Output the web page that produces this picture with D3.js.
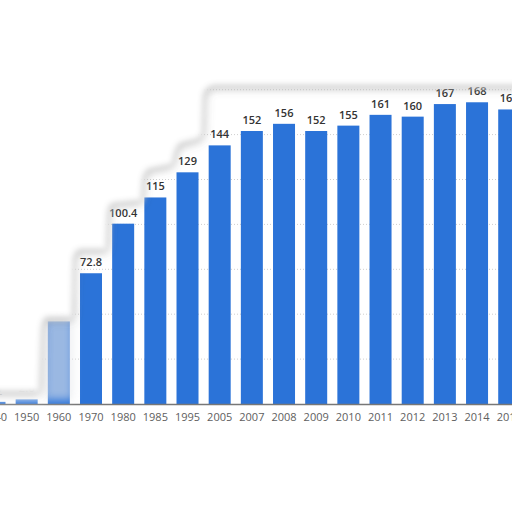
<!DOCTYPE html>
<html lang="en">
<head>
  <meta charset="UTF-8">
  <title>Bar chart</title>
  <script src="https://d3js.org/d3.v7.min.js"></script>
  <style>
    body { margin: 0; background: #fff; }
    .bar { fill: #2b73d8; }
    .val { font-family: "Open Sans", sans-serif; font-size: 11px; font-weight: 600; fill: #333; }
    .tick-lbl { font-family: "Open Sans", sans-serif; font-size: 11px; fill: #606060; }
  </style>
</head>
<body>
  <svg width="512" height="512"></svg>

  <script>
    // data
    const years  = ["1940", "1950", "1960", "1970", "1980", "1985", "1995", "2005", "2007",
                    "2008", "2009", "2010", "2011", "2012", "2013", "2014", "2015"];
    const values = [1.2, 2.6, 46, 72.8, 100.4, 115, 129, 144, 152,
                    156, 152, 155, 161, 160, 167, 168, 164];
    const gridTicks = [25, 50, 75, 100, 125, 150, 175];

    const svg = d3.select("svg");
    const baseY = 404;

    // the chart is cropped: bands run past both edges of the picture
    const x = d3.scaleBand()
      .domain(years)
      .range([-21.6, 525.3])
      .paddingInner(0.316)
      .paddingOuter(0.158);

    const y = d3.scaleLinear()
      .domain([0, 175])
      .range([baseY, baseY - 175 * 1.796]);

    // dotted grid
    svg.append("g")
      .selectAll("line")
      .data(gridTicks)
      .join("line")
        .attr("x1", 0).attr("x2", 512)
        .attr("y1", d => y(d)).attr("y2", d => y(d))
        .attr("stroke", "#cfcfcf")
        .attr("stroke-dasharray", "1,2");

    // bars
    svg.selectAll(".bar")
      .data(values)
      .join("rect")
        .attr("class", "bar")
        .attr("x", (d, i) => x(years[i]))
        .attr("y", d => y(d))
        .attr("width", x.bandwidth())
        .attr("height", d => baseY - y(d));

    // value labels
    svg.selectAll(".val")
      .data(values)
      .join("text")
        .attr("class", "val")
        .attr("x", (d, i) => x(years[i]) + x.bandwidth() / 2)
        .attr("y", d => y(d) - 7)
        .attr("text-anchor", "middle")
        .text(d => d);

    // x axis
    const xAxis = svg.append("g")
      .attr("transform", `translate(0,${baseY})`)
      .call(d3.axisBottom(x).tickSize(0).tickPadding(9));
    xAxis.select(".domain").attr("stroke", "#777").attr("stroke-width", 1.5);
    xAxis.selectAll("text").attr("class", "tick-lbl").attr("font-size", null).attr("font-family", null);

    // smudged white overlay that hides the top and left of the original screenshot
    const defs = svg.append("defs");
    const f = defs.append("filter").attr("id", "smudge")
      .attr("x", "-10%").attr("y", "-10%").attr("width", "120%").attr("height", "120%");
    f.append("feGaussianBlur").attr("in", "SourceGraphic").attr("stdDeviation", 3).attr("result", "b");
    f.append("feDropShadow").attr("in", "b").attr("dx", 0).attr("dy", 1)
      .attr("stdDeviation", 3).attr("flood-color", "#666").attr("flood-opacity", 0.85);

    const soft = defs.append("filter").attr("id", "soft")
      .attr("x", "-30%").attr("y", "-30%").attr("width", "160%").attr("height", "160%");
    soft.append("feGaussianBlur").attr("stdDeviation", 4);

    // faded area over the early bars
    svg.append("path")
      .attr("d", "M-10,300 L44,300 L44,400 L-10,400 Z")
      .attr("fill", "#fff")
      .attr("opacity", 0.85)
      .attr("filter", "url(#soft)");
    svg.append("rect")
      .attr("x", 45).attr("y", 300).attr("width", 28).attr("height", 100)
      .attr("fill", "#e4e6ea").attr("opacity", 0.6).attr("filter", "url(#soft)");

    svg.append("path")
      .attr("d", "M-20,-20 L530,-20 L530,86 L214,86 Q205,88 204,96 L203,134 Q200,140 192,141 " +
                 "L180,144 Q175,150 174,160 L172,165 L148,170 Q143,175 143,185 L142,201 L112,204 " +
                 "Q108,208 108,220 L107,250 L80,250 Q74,252 74,262 L73,318 L46,318 Q42,322 42,335 " +
                 "L40,392 L-20,392 Z")
      .attr("fill", "#fff")
      .attr("filter", "url(#smudge)");

    // faint shadow under the tick labels
    svg.append("line")
      .attr("x1", 0).attr("x2", 512).attr("y1", 427).attr("y2", 427)
      .attr("stroke", "#aaa").attr("stroke-width", 2).attr("opacity", 0.5)
      .attr("filter", "url(#soft)");
  </script>
</body>
</html>
